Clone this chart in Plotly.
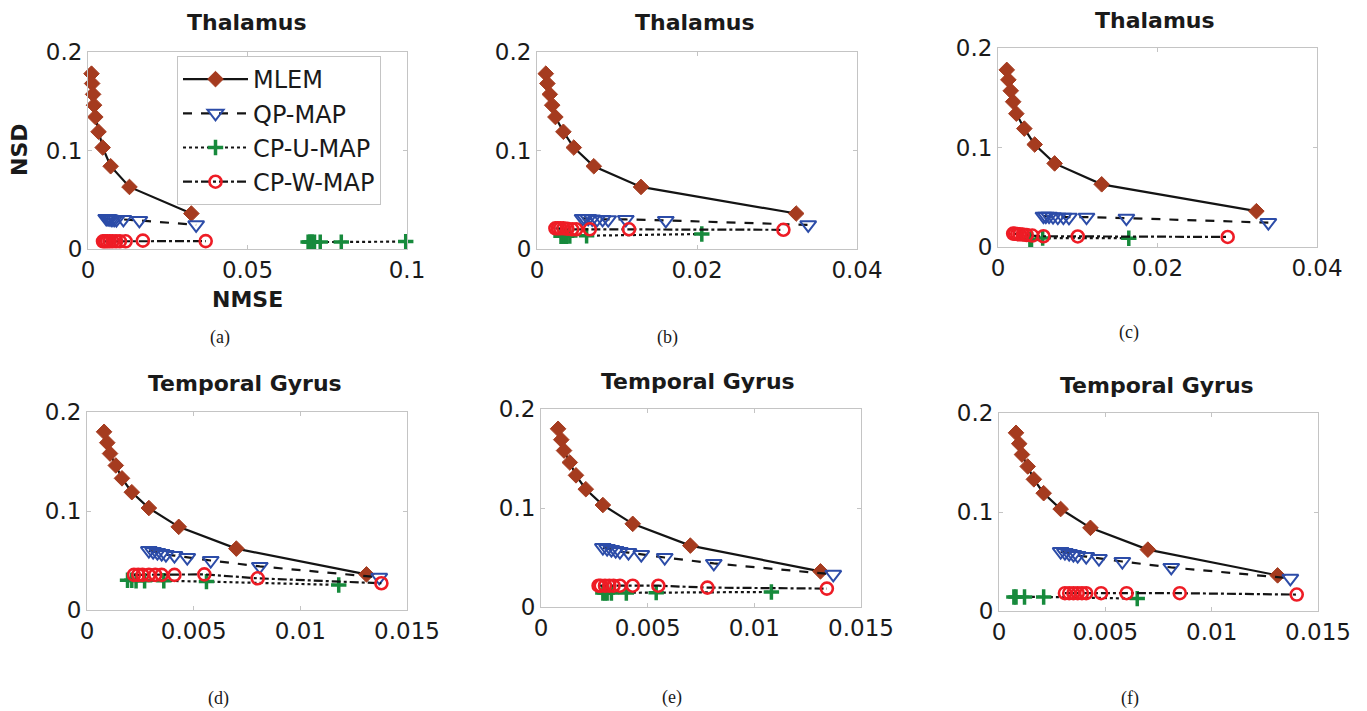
import plotly.graph_objects as go

W, H = 1367, 711

# ---------------- data ----------------
series_names = ["MLEM", "QP-MAP", "CP-U-MAP", "CP-W-MAP"]
panel_letters = ["(a)", "(b)", "(c)", "(d)", "(e)", "(f)"]
panel_titles = ["Thalamus", "Thalamus", "Thalamus", "Temporal Gyrus", "Temporal Gyrus", "Temporal Gyrus"]

y_tickvals = [0, 0.1, 0.2]
y_ticktext = ["0", "0.1", "0.2"]
x_tickvals_a = [0, 0.05, 0.1]
x_ticktext_a = ["0", "0.05", "0.1"]
x_tickvals_bc = [0, 0.02, 0.04]
x_ticktext_bc = ["0", "0.02", "0.04"]
x_tickvals_def = [0, 0.005, 0.01, 0.015]
x_ticktext_def = ["0", "0.005", "0.01", "0.015"]

# Thalamus
mlem_th_x = [0.0011, 0.0013, 0.0016, 0.0019, 0.0023, 0.0033, 0.0046, 0.0071, 0.0130, 0.0324]
mlem_th_y = [0.178, 0.168, 0.157, 0.146, 0.134, 0.119, 0.103, 0.084, 0.063, 0.036]
qp_th_x = [0.0057, 0.0060, 0.0064, 0.0069, 0.0075, 0.0082, 0.0089, 0.0111, 0.0161, 0.0339]
qp_th_y = [0.031, 0.031, 0.031, 0.0305, 0.030, 0.030, 0.0298, 0.030, 0.029, 0.0245]

cpu_a_x = [0.0690, 0.0695, 0.0700, 0.0703, 0.0710, 0.0728, 0.0794, 0.0996]
cpu_a_y = [0.0070, 0.0070, 0.0070, 0.0070, 0.0070, 0.0070, 0.0070, 0.0075]
cpw_a_x = [0.0047, 0.0053, 0.0060, 0.0068, 0.0077, 0.0088, 0.0100, 0.0118, 0.0172, 0.0369]
cpw_a_y = [0.0078, 0.0078, 0.0078, 0.0078, 0.0078, 0.0078, 0.0078, 0.0078, 0.0085, 0.0080]

cpu_b_x = [0.0030, 0.0032, 0.0034, 0.0037, 0.0041, 0.0062, 0.0206]
cpu_b_y = [0.0130, 0.0130, 0.0130, 0.0130, 0.0132, 0.0135, 0.0152]
cpw_b_x = [0.0023, 0.0026, 0.0029, 0.0033, 0.0038, 0.0044, 0.0049, 0.0066, 0.0115, 0.0308]
cpw_b_y = [0.0210, 0.0210, 0.0210, 0.0210, 0.0205, 0.0200, 0.0200, 0.0200, 0.0200, 0.0195]

cpu_c_x = [0.0040, 0.0042, 0.0056, 0.0164]
cpu_c_y = [0.0075, 0.0078, 0.0090, 0.0088]
cpw_c_x = [0.0019, 0.0021, 0.0024, 0.0027, 0.0031, 0.0036, 0.0043, 0.0057, 0.0100, 0.0288]
cpw_c_y = [0.0135, 0.0133, 0.0130, 0.0128, 0.0125, 0.0120, 0.0115, 0.0108, 0.0106, 0.0101]

# Temporal Gyrus
mlem_tg_x = [0.0008, 0.00095, 0.00108, 0.00135, 0.00164, 0.0021, 0.0029, 0.0043, 0.0070, 0.0131]
mlem_tg_y = [0.180, 0.169, 0.158, 0.146, 0.133, 0.119, 0.103, 0.084, 0.062, 0.036]
qp_tg_x = [0.0029, 0.0031, 0.0033, 0.0035, 0.0037, 0.0041, 0.0047, 0.0058, 0.0081, 0.0137]
qp_tg_y = [0.060, 0.059, 0.058, 0.057, 0.056, 0.055, 0.053, 0.050, 0.044, 0.033]

cpu_d_x = [0.0019, 0.0021, 0.0023, 0.0027, 0.0036, 0.0056, 0.0118]
cpu_d_y = [0.0300, 0.0300, 0.0295, 0.0295, 0.0295, 0.0287, 0.0253]
cpw_d_x = [0.0022, 0.0024, 0.0026, 0.0029, 0.0032, 0.0035, 0.0041, 0.0055, 0.0080, 0.0138]
cpw_d_y = [0.0355, 0.0355, 0.0355, 0.0355, 0.0355, 0.0355, 0.0355, 0.0360, 0.0320, 0.0270]

cpu_e_x = [0.0029, 0.0030, 0.0031, 0.0033, 0.0040, 0.0054, 0.0108]
cpu_e_y = [0.0142, 0.0142, 0.0142, 0.0142, 0.0142, 0.0145, 0.0152]
cpw_e_x = [0.0027, 0.0028, 0.0030, 0.0032, 0.0034, 0.0037, 0.0043, 0.0055, 0.0078, 0.0134]
cpw_e_y = [0.0215, 0.0215, 0.0215, 0.0215, 0.0215, 0.0215, 0.0215, 0.0215, 0.0196, 0.0186]

cpu_f_x = [0.0007, 0.0008, 0.0012, 0.0021, 0.0065]
cpu_f_y = [0.0142, 0.0142, 0.0142, 0.0142, 0.0125]
cpw_f_x = [0.0031, 0.0033, 0.0035, 0.0037, 0.0039, 0.0041, 0.0048, 0.0060, 0.0085, 0.0140]
cpw_f_y = [0.0180, 0.0180, 0.0180, 0.0180, 0.0180, 0.0180, 0.0180, 0.0180, 0.0180, 0.0166]

panels = [
    dict(mlem=(mlem_th_x, mlem_th_y), qp=(qp_th_x, qp_th_y), cpu=(cpu_a_x, cpu_a_y), cpw=(cpw_a_x, cpw_a_y),
         xr=[0, 0.1], xt=(x_tickvals_a, x_ticktext_a), box=(88, 407, 52, 249)),
    dict(mlem=(mlem_th_x, mlem_th_y), qp=(qp_th_x, qp_th_y), cpu=(cpu_b_x, cpu_b_y), cpw=(cpw_b_x, cpw_b_y),
         xr=[0, 0.04], xt=(x_tickvals_bc, x_ticktext_bc), box=(537, 857, 52, 249)),
    dict(mlem=(mlem_th_x, mlem_th_y), qp=(qp_th_x, qp_th_y), cpu=(cpu_c_x, cpu_c_y), cpw=(cpw_c_x, cpw_c_y),
         xr=[0, 0.04], xt=(x_tickvals_bc, x_ticktext_bc), box=(998, 1317, 48, 247)),
    dict(mlem=(mlem_tg_x, mlem_tg_y), qp=(qp_tg_x, qp_tg_y), cpu=(cpu_d_x, cpu_d_y), cpw=(cpw_d_x, cpw_d_y),
         xr=[0, 0.015], xt=(x_tickvals_def, x_ticktext_def), box=(87, 407, 412, 610)),
    dict(mlem=(mlem_tg_x, mlem_tg_y), qp=(qp_tg_x, qp_tg_y), cpu=(cpu_e_x, cpu_e_y), cpw=(cpw_e_x, cpw_e_y),
         xr=[0, 0.015], xt=(x_tickvals_def, x_ticktext_def), box=(541, 861, 409, 607)),
    dict(mlem=(mlem_tg_x, mlem_tg_y), qp=(qp_tg_x, qp_tg_y), cpu=(cpu_f_x, cpu_f_y), cpw=(cpw_f_x, cpw_f_y),
         xr=[0, 0.015], xt=(x_tickvals_def, x_ticktext_def), box=(999, 1318, 413, 611)),
]

# title / label positions (px)
title_pos = [(247, 23), (695, 23), (1155, 20), (245, 383), (698, 382), (1157, 385)]
letter_pos = [(220, 337), (667, 337), (1129, 332), (218, 698), (672, 697), (1130, 698)]

# ---------------- styles ----------------
SANS = "DejaVu Sans, Arial, sans-serif"
SERIF = "Liberation Serif, Times New Roman, serif"
TXT = "#1a1a1a"
AX = "#c4c4c4"
LINE_COL = "#141414"
styles = {
    "mlem": dict(dash="solid", marker=dict(symbol="diamond", size=12, color="#A53B1F",
                                           line=dict(width=1, color="#A53B1F"))),
    "qp": dict(dash="dash", marker=dict(symbol="triangle-down-open", size=14, color="#2C4CA8",
                                        line=dict(width=2, color="#2C4CA8"))),
    "cpu": dict(dash="dot", marker=dict(symbol="cross-thin-open", size=11, color="#178A3C",
                                        line=dict(width=3.5, color="#178A3C"))),
    "cpw": dict(dash="dashdot", marker=dict(symbol="circle-open", size=12, color="#EE1C25",
                                            line=dict(width=2.6, color="#EE1C25"))),
}
keys = ["mlem", "qp", "cpu", "cpw"]

fig = go.Figure()
layout = dict(
    template="none",
    width=W, height=H, margin=dict(l=0, r=0, t=0, b=0, pad=0), autosize=False,
    paper_bgcolor="white", plot_bgcolor="white",
    font=dict(family=SANS, color=TXT),
    showlegend=True,
)

def fx(px):
    return px / W

def fy(py):
    return 1 - py / H

annotations = []
for i, p in enumerate(panels):
    n = i + 1
    xa = "x" if n == 1 else f"x{n}"
    ya = "y" if n == 1 else f"y{n}"
    for k, name in zip(keys, series_names):
        xs, ys = p[k]
        st = styles[k]
        fig.add_trace(go.Scatter(
            x=xs, y=ys, mode="lines+markers", name=name,
            line=dict(color=LINE_COL, width=2.2, dash=st["dash"]),
            marker=st["marker"], xaxis=xa, yaxis=ya,
            showlegend=(i == 0), cliponaxis=False,
        ))
    l, r, t, b = p["box"]
    axis_common = dict(showgrid=False, zeroline=False, showline=True, linecolor=AX, linewidth=1,
                       mirror="ticks", ticks="inside", ticklen=4, tickcolor=AX, automargin=False,
                       tickfont=dict(size=23, color=TXT, family=SANS))
    layout["xaxis" if n == 1 else f"xaxis{n}"] = dict(
        domain=[fx(l), fx(r)], range=p["xr"], anchor=ya,
        tickmode="array", tickvals=p["xt"][0], ticktext=p["xt"][1], **axis_common)
    layout["yaxis" if n == 1 else f"yaxis{n}"] = dict(
        domain=[fy(b), fy(t)], range=[0, 0.2], anchor=xa,
        tickmode="array", tickvals=y_tickvals, ticktext=y_ticktext, **axis_common)
    tx, ty = title_pos[i]
    annotations.append(dict(text="<b>%s</b>" % panel_titles[i], x=fx(tx), y=fy(ty), xref="paper", yref="paper",
                            showarrow=False, xanchor="center", yanchor="middle",
                            font=dict(size=22, color=TXT, family=SANS)))
    lx, ly = letter_pos[i]
    annotations.append(dict(text=panel_letters[i], x=fx(lx), y=fy(ly), xref="paper", yref="paper",
                            showarrow=False, xanchor="center", yanchor="middle",
                            font=dict(size=18, family=SERIF, color=TXT)))

annotations.append(dict(text="<b>NSD</b>", x=fx(20), y=fy(150), xref="paper", yref="paper", textangle=-90,
                        showarrow=False, xanchor="center", yanchor="middle",
                        font=dict(size=22, color=TXT, family=SANS)))
annotations.append(dict(text="<b>NMSE</b>", x=fx(247), y=fy(300), xref="paper", yref="paper",
                        showarrow=False, xanchor="center", yanchor="middle",
                        font=dict(size=22, color=TXT, family=SANS)))

layout["annotations"] = annotations
layout["legend"] = dict(x=fx(177), y=fy(56), xanchor="left", yanchor="top", bgcolor="white",
                        bordercolor=AX, borderwidth=1, font=dict(size=24, color=TXT, family=SANS),
                        itemwidth=65, tracegroupgap=0)
fig.update_layout(**layout)
fig.write_html("out.html", config={"displayModeBar": False},
               post_script="document.body.style.margin='0';document.body.style.overflow='hidden';")
